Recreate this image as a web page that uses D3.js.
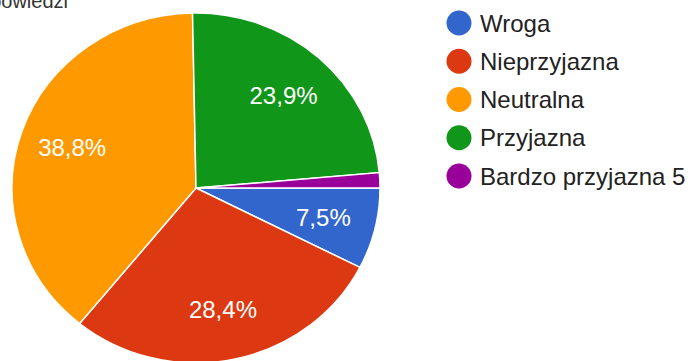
<!DOCTYPE html>
<html>
<head>
<meta charset="utf-8">
<script src="https://cdn.jsdelivr.net/npm/d3@7"></script>
<style>
  html, body { margin: 0; padding: 0; background: #fff; }
  svg { display: block; }
</style>
</head>
<body>
<svg id="chart" width="693" height="361"></svg>
<script>
const categories = ["Wroga", "Nieprzyjazna", "Neutralna", "Przyjazna", "Bardzo przyjazna 5"];
const values = [7.5, 28.4, 38.8, 23.9, 1.4];
const labels = ["7,5%", "28,4%", "38,8%", "23,9%", ""];
const colors = ["#3366cc", "#dc3912", "#ff9900", "#109618", "#990099"];
const headerText = "odpowiedzi";

const svg = d3.select("#chart");
const cx = 196, cy = 188, rx = 184, ry = 175;
const sy = ry / rx;
const font = "Arial, 'Liberation Sans', sans-serif";

const pie = d3.pie().sort(null).value(d => d)
  .startAngle(Math.PI / 2).endAngle(Math.PI / 2 + 2 * Math.PI);
const arcs = pie(values);
const arc = d3.arc().innerRadius(0).outerRadius(rx);
const labelArc = d3.arc().innerRadius(131).outerRadius(131);

const color = d3.scaleOrdinal().domain(categories).range(colors);

const g = svg.append("g").attr("transform", `translate(${cx},${cy}) scale(1,${sy})`);
g.selectAll("path").data(arcs).join("path")
  .attr("d", arc)
  .attr("fill", (d, i) => color(categories[i]))
  .attr("stroke", "#fff")
  .attr("stroke-width", 1.5)
  .attr("vector-effect", "non-scaling-stroke");

svg.append("g").selectAll("text").data(arcs).join("text")
  .attr("x", d => cx + labelArc.centroid(d)[0])
  .attr("y", d => cy + labelArc.centroid(d)[1] * sy)
  .attr("text-anchor", "middle")
  .attr("dominant-baseline", "central")
  .attr("font-family", font)
  .attr("font-size", 24)
  .attr("fill", "#fff")
  .text((d, i) => labels[i]);

// header (cropped)
svg.append("text")
  .attr("x", 68).attr("y", 8)
  .attr("text-anchor", "end")
  .attr("font-family", font)
  .attr("font-size", 20)
  .attr("fill", "#333")
  .text(headerText);

// legend
const legendY = d3.scalePoint().domain(categories).range([23, 176]);
const lg = svg.append("g");
const items = lg.selectAll("g").data(categories).join("g")
  .attr("transform", d => `translate(459,${legendY(d)})`);
items.append("circle").attr("r", 12.5).attr("fill", d => color(d));
items.append("text")
  .attr("x", 21).attr("y", 0)
  .attr("dominant-baseline", "central")
  .attr("font-family", font)
  .attr("font-size", 24)
  .attr("fill", "#222")
  .text(d => d);
</script>
</body>
</html>
